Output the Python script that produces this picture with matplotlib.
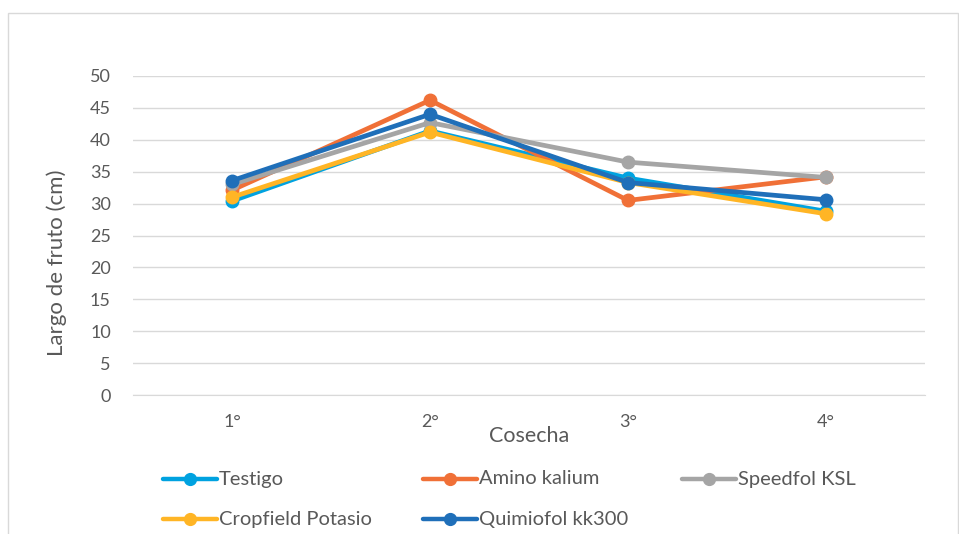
import matplotlib

matplotlib.use("Agg")
import matplotlib.pyplot as plt
from matplotlib.lines import Line2D
from matplotlib.patches import Rectangle

plt.rcParams["font.family"] = ["Lato", "DejaVu Sans"]

cosechas = ["1°", "2°", "3°", "4°"]
series_names = ["Testigo", "Amino kalium", "Speedfol KSL", "Cropfield Potasio", "Quimiofol kk300"]
testigo = [30.4, 41.4, 34.0, 28.8]
amino_kalium = [32.1, 46.2, 30.5, 34.2]
speedfol_ksl = [33.0, 42.7, 36.5, 34.1]
cropfield_potasio = [31.0, 41.2, 33.3, 28.4]
quimiofol_kk300 = [33.6, 44.0, 33.3, 30.6]
series_values = [testigo, amino_kalium, speedfol_ksl, cropfield_potasio, quimiofol_kk300]
colors = ["#00A2E0", "#F07037", "#A5A5A5", "#FFB525", "#1F6FB9"]
yticks = list(range(0, 51, 5))

TXT = "#595959"
GRID = "#D9D9D9"
W, H = 959, 534

fig = plt.figure(figsize=(W / 100, H / 100), dpi=100)
fig.patch.set_facecolor("white")

# outer chart border (left/top/right visible)
fig.patches.append(Rectangle((8 / W, -0.05), 950 / W, 1.05 - 13 / H, transform=fig.transFigure,
                             fill=False, edgecolor=GRID, linewidth=1.0))

ax = fig.add_axes([133 / W, 1 - 395 / H, 792 / W, (395 - 76) / H])
x = list(range(len(cosechas)))
for name, vals, c in zip(series_names, series_values, colors):
    ax.plot(x, vals, color=c, linewidth=3.4, marker="o", markersize=9, label=name,
            solid_capstyle="round", solid_joinstyle="round")

ax.set_xlim(-0.5, len(cosechas) - 0.5)
ax.set_ylim(0, 50)
ax.set_yticks(yticks)
ax.set_xticks(x)
ax.set_xticklabels(cosechas)
ax.yaxis.grid(True, color=GRID, linewidth=1.0)
ax.set_axisbelow(True)
for s in ["top", "right", "left"]:
    ax.spines[s].set_visible(False)
ax.spines["bottom"].set_color(GRID)
ax.tick_params(axis="both", length=0, colors=TXT, labelsize=13)
ax.tick_params(axis="y", pad=16)
ax.tick_params(axis="x", pad=14)
ax.set_xlabel("Cosecha", color=TXT, fontsize=15.5, labelpad=-3)
ax.set_ylabel("Largo de fruto (cm)", color=TXT, fontsize=16, va="center")
ax.yaxis.set_label_coords((57 - 133) / 792, (395 - 263) / 319)

# legend in Excel-style grid
positions = [(163, 479), (423, 479), (682, 479), (163, 519), (423, 519)]
for (px, py), name, c in zip(positions, series_names, colors):
    fx0, fx1 = px / W, (px + 54) / W
    fy = 1 - py / H
    fig.add_artist(Line2D([fx0, fx1], [fy, fy], transform=fig.transFigure, color=c, linewidth=3.2,
                          solid_capstyle="round"))
    fig.add_artist(Line2D([(px + 27) / W], [fy], transform=fig.transFigure, color=c, marker="o",
                          markersize=8.5, linestyle="none"))
    fig.text((px + 56) / W, fy, name, color=TXT, fontsize=14.5, va="center", ha="left")

fig.savefig("out.png", dpi=100)
